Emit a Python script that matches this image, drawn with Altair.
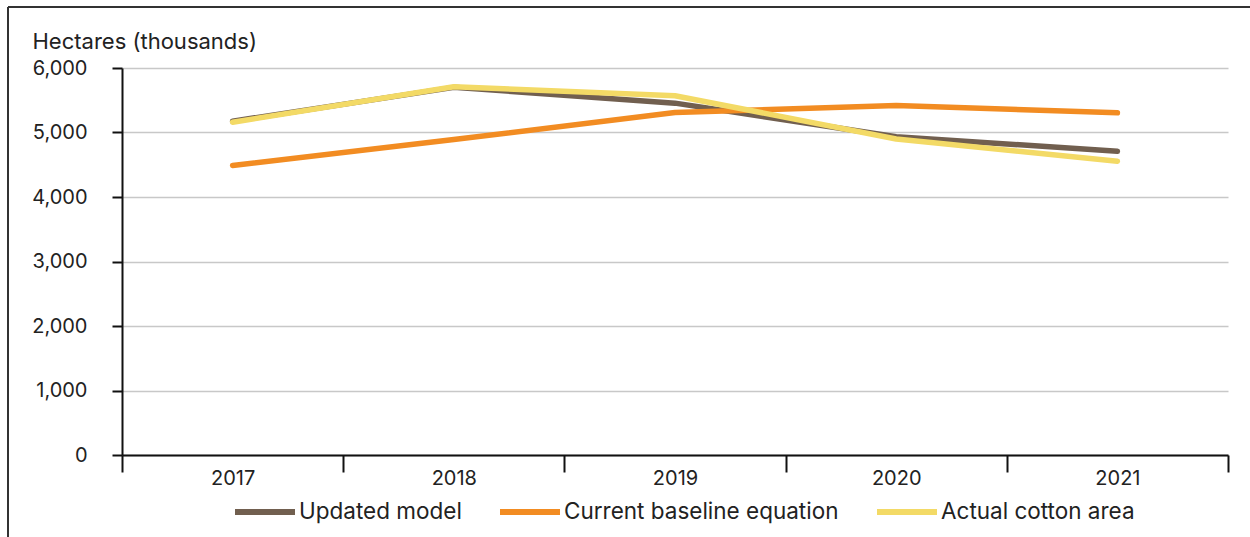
import altair as alt
import pandas as pd

years = ["2017", "2018", "2019", "2020", "2021"]
updated_model = [5175, 5700, 5455, 4935, 4710]
baseline_eq = [4490, 4890, 5310, 5420, 5305]
actual_area = [5160, 5710, 5570, 4900, 4555]
series_names = ["Updated model", "Current baseline equation", "Actual cotton area"]
series_colors = ["#715f4f", "#f28c22", "#f3da66"]
y_ticks = [0, 1000, 2000, 3000, 4000, 5000, 6000]

rows = []
for name, vals in zip(series_names, [updated_model, baseline_eq, actual_area]):
    for i, (yr, v) in enumerate(zip(years, vals)):
        rows.append({"year": yr, "value": v, "series": name, "order": series_names.index(name)})
df = pd.DataFrame(rows)

FONT = "Inter"

lines = alt.Chart(df).mark_line(strokeWidth=5.5, strokeCap="round", strokeJoin="round").encode(
    x=alt.X("year:N", bandPosition=0.5,
            scale=alt.Scale(type="band", paddingInner=0, paddingOuter=0),
            axis=alt.Axis(title=None, tickBand="extent", tickSize=17, tickWidth=2, tickColor="#111",
                          domainColor="#111", domainWidth=2, labelAngle=0, labelFontSize=20,
                          labelColor="#222", labelPadding=-4, labelFont=FONT, grid=False)),
    y=alt.Y("value:Q", scale=alt.Scale(domain=[0, 6000], nice=False),
            axis=alt.Axis(values=y_ticks, format=",.0f", title="Hectares (thousands)",
                          titleAngle=0, titleX=-90, titleY=-20, titleAlign="left",
                          titleBaseline="alphabetic", titleFontSize=22, titleFontWeight="normal",
                          titleFont=FONT, titleColor="#222",
                          labelFontSize=20, labelColor="#222", labelFont=FONT, labelPadding=25,
                          tickSize=10, tickWidth=2, tickColor="#111",
                          domainColor="#111", domainWidth=2,
                          grid=True, gridColor="#c8c8c8", gridWidth=1.5)),
    color=alt.Color("series:N", sort=series_names,
                    scale=alt.Scale(domain=series_names, range=series_colors),
                    legend=alt.Legend(title=None, orient="none", direction="horizontal",
                                      legendX=110, legendY=411, symbolType="stroke",
                                      symbolSize=3600, symbolStrokeWidth=6, labelFontSize=22.5,
                                      labelFont=FONT, labelColor="#222", labelOffset=1,
                                      labelLimit=400, columnPadding=26)),
    order=alt.Order("order:Q"),
    detail="series:N",
)

frame_df = pd.DataFrame({"a": [0]})
left_line = alt.Chart(frame_df).mark_rule(color="#333", strokeWidth=2).encode(
    x=alt.value(-114), y=alt.value(-61), y2=alt.value(600))
top_line = alt.Chart(frame_df).mark_rule(color="#333", strokeWidth=2).encode(
    x=alt.value(-114), x2=alt.value(1200), y=alt.value(-61))

chart = alt.layer(left_line, top_line, lines).properties(
    width=1106, height=387,
    autosize=alt.AutoSizeParams(type="none"),
    padding={"left": 122, "top": 68, "right": 22, "bottom": 82},
    background="white",
).configure_view(stroke=None)

chart.save("out.html", embed_options={"renderer": "svg", "actions": False})
